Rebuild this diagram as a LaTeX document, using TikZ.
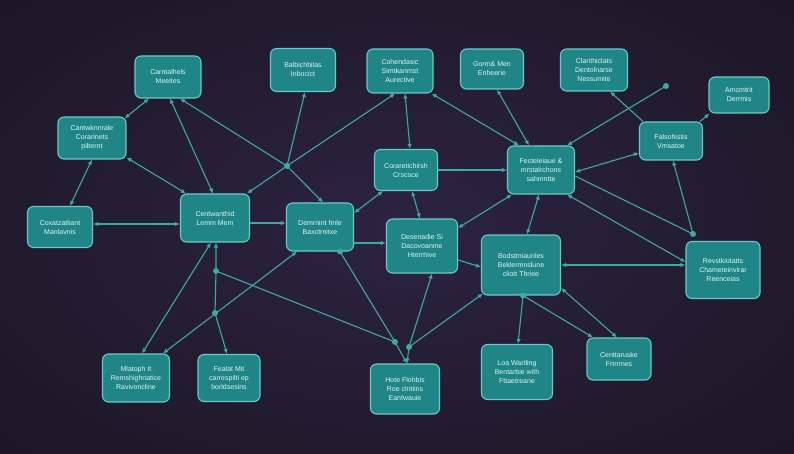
\documentclass[tikz,border=0pt]{standalone}
\usepackage{fontspec}
\setmainfont{Liberation Sans}
\usetikzlibrary{arrows.meta,calc}
\definecolor{bgin}{HTML}{2C2342}
\definecolor{bgout}{HTML}{141218}
\definecolor{boxfill}{HTML}{1F8587}
\definecolor{boxline}{HTML}{6CC9C4}
\definecolor{txt}{HTML}{E2F5F3}
\definecolor{lc}{HTML}{3FA9A5}
\begin{document}
\begin{tikzpicture}[x=1pt,y=-1pt,
  box/.style={draw=boxline, fill=boxfill, line width=1.1pt, rounded corners=6pt,
    text=txt, font=\fontsize{7}{9}\selectfont, align=center, inner sep=2pt},
  ln/.style={draw=lc, line width=1.1pt},
  >={Latex[length=5pt,width=4.5pt]},
  dot/.style={circle, fill=lc, inner sep=0pt, minimum size=6pt}]
\useasboundingbox (0,0) rectangle (794,454);
\begin{scope}
\clip (0,0) rectangle (794,454);
\shade[inner color=bgin, outer color=bgout] (-397,-227) rectangle (1191,681);
\end{scope}
% nodes
\node[box, minimum width=66pt, minimum height=42pt] (A) at (168,77) {Carntalhels\\Meeites};
\node[box, minimum width=68pt, minimum height=42pt] (B) at (92,138) {Cantwknnrale\\Corarinets\\pilternt};
\node[box, minimum width=65pt, minimum height=41pt] (C) at (60,227) {Coxatzatliant\\Manlavnis};
\node[box, minimum width=69pt, minimum height=48pt] (D) at (215,218) {Centwanthid\\Lemm Mem};
\node[box, minimum width=65pt, minimum height=43pt] (E) at (303,70) {Balbichbilas\\Inbocict};
\node[box, minimum width=66pt, minimum height=44pt] (F) at (400,71) {Cohendasic\\Simtkanmst\\Aurective};
\node[box, minimum width=63pt, minimum height=40pt] (G) at (492,69) {Gorm\& Men\\Enheerie};
\node[box, minimum width=67pt, minimum height=42pt] (H) at (594,70) {Clarithiclats\\Dentolnarse\\Nessumite};
\node[box, minimum width=60pt, minimum height=36pt] (I) at (739,95) {Amcmtrit\\Derrmis};
\node[box, minimum width=63pt, minimum height=41pt] (J) at (406,170) {Coraretichirsh\\Crscoce};
\node[box, minimum width=67pt, minimum height=48pt] (K) at (541,170) {Fecteleiaue \&\\mrstalrchons\\sahmntte};
\node[box, minimum width=63pt, minimum height=38pt] (L) at (671,141) {Falsohistis\\Vmsatoe};
\node[box, minimum width=67pt, minimum height=48pt] (M) at (320,227) {Demrnint hnle\\Baxctrnitxe};
\node[box, minimum width=71pt, minimum height=54pt] (N) at (422,246) {Desenadie Si\\Dacovoanme\\Hterrhive};
\node[box, minimum width=79pt, minimum height=60pt] (O) at (521,265) {Bodstmiauriles\\Beklermnslune\\cliott Thriee};
\node[box, minimum width=74pt, minimum height=57pt] (P) at (723,270) {Revstkiotatts\\Chameteinvirar\\Reenceias};
\node[box, minimum width=67pt, minimum height=48pt] (Q) at (136,378) {Mlatoph It\\Remshighnatice\\Ravivoncline};
\node[box, minimum width=62pt, minimum height=47pt] (R) at (229,378) {Fealat Mit\\carrespilti ep\\borldsesins};
\node[box, minimum width=69pt, minimum height=50pt] (S) at (405,389) {Hote Flohbis\\Roe clritiins\\Eanfwauie};
\node[box, minimum width=71pt, minimum height=55pt] (T) at (517,372) {Loa Wartling\\Bentarbie with\\Fttaetreane};
\node[box, minimum width=64pt, minimum height=42pt] (U) at (619,359) {Centtaruske\\Frtrrmes};
% junction coordinates
\coordinate (J1) at (287,166);
\coordinate (Dh) at (666,86);
\coordinate (Dp) at (693,234);
\coordinate (Dd1) at (216,271);
\coordinate (Dd2) at (215,313);
\coordinate (S1) at (395,342);
\coordinate (S2) at (409,347);
\coordinate (Dm) at ([xshift=20pt]M.south);
\coordinate (Do) at ([xshift=2pt]O.south);
% connectors
\draw[ln,<->] ([xshift=-19pt]A.south) -- ([xshift=-2pt,yshift=-2pt]B.north east);
\draw[ln,<->] ([xshift=2pt]A.south) -- ([xshift=-2pt]D.north);
\draw[ln,<->] ([xshift=12pt]A.south) -- (J1) -- ([xshift=3pt]M.north);
\draw[ln,<->] (B.south) -- ([xshift=10pt]C.north);
\draw[ln,<->] ([yshift=2pt]B.south east) -- ([xshift=6pt]D.north west);
\draw[ln,<->] ([yshift=3pt]C.east) -- ([yshift=3pt]C.east -| D.west);
\draw[ln,<-] ([xshift=2pt]E.south) -- (J1);
\draw[ln,<->] ([xshift=-5pt]F.south) -- (J1) -- ([xshift=-3pt]D.north east);
\draw[ln,<->] ([xshift=5pt]F.south) -- ([xshift=4pt]J.north);
\draw[ln,<->] ([xshift=-2pt]F.south east) -- ([xshift=-22pt]K.north);
\draw[ln,<->] ([xshift=5pt]G.south) -- ([xshift=-12pt]K.north);
\draw[ln,<-] ([xshift=16pt]H.south) -- ([xshift=4pt]L.north west);
\draw[ln,->] (Dh) -- ([xshift=26pt]K.north);
\draw[ln,->] ([xshift=-3pt]L.north east) -- ([xshift=1pt]I.south west);
\draw[ln,<->] ([yshift=-2pt]K.east) -- ([yshift=-12pt]L.west);
\draw[ln,->] (J.east) -- (J.east -| K.west);
\draw[ln] ([yshift=-6pt]K.east) -- (Dp);
\draw[ln,<-] ([xshift=2pt]L.south) -- (Dp);
\draw[ln,<->] ([xshift=26pt]K.south) -- ([yshift=8pt]P.west);
\draw[ln,<->] (O.east) -- (O.east -| P.west);
\draw[ln,<->] ([xshift=-2pt]K.south) -- ([xshift=6pt]O.north);
\draw[ln,<->] ([xshift=5pt]K.south west) -- ([yshift=18pt]N.east);
\draw[ln,<->] ([xshift=6pt]J.south) -- ([xshift=-2pt]N.north);
\draw[ln,<->] ([yshift=14pt]M.east) -- ([xshift=-23pt]J.south);
\draw[ln,->] ([yshift=-5pt]D.east) -- ([yshift=-5pt]D.east -| M.west);
\draw[ln,->] ([yshift=-16pt]M.east) -- ([yshift=-16pt]M.east -| N.west);
\draw[ln,->] ([yshift=-14pt]N.east) -- ([yshift=-2pt]O.west);
\draw[ln,<-] ([xshift=2pt,yshift=2pt]O.south west) -- (S2);
\draw[ln,<-] ([xshift=10pt]N.south) -- (S2);
\draw[ln,->] (S2) -- ([xshift=2pt]S.north);
\draw[ln,<->] ([xshift=-4pt]D.south) -- ([xshift=6pt]Q.north);
\draw[ln,<->] ([xshift=-23pt]M.south) -- ([xshift=27pt]Q.north);
\draw[ln,<->] ([xshift=1pt]D.south) -- (Dd1) -- (Dd2) -- ([xshift=-2pt]R.north);
\draw[ln] (Dd1) -- (S1);
\draw[ln] (Dm) -- (S1);
\draw[ln,->] (S1) -- ([xshift=2pt]S.north);
\draw[ln,->] (Do) -- ([xshift=1pt]T.north);
\draw[ln,->] (Do) -- ([xshift=-26pt]U.north);
\draw[ln,<->] ([yshift=-23pt]O.east) -- ([xshift=-2pt]U.north);
% dots
\foreach \p in {J1,Dh,Dp,Dd1,Dd2,S1,S2,Dm,Do} \node[dot] at (\p) {};
\end{tikzpicture}
\end{document}
